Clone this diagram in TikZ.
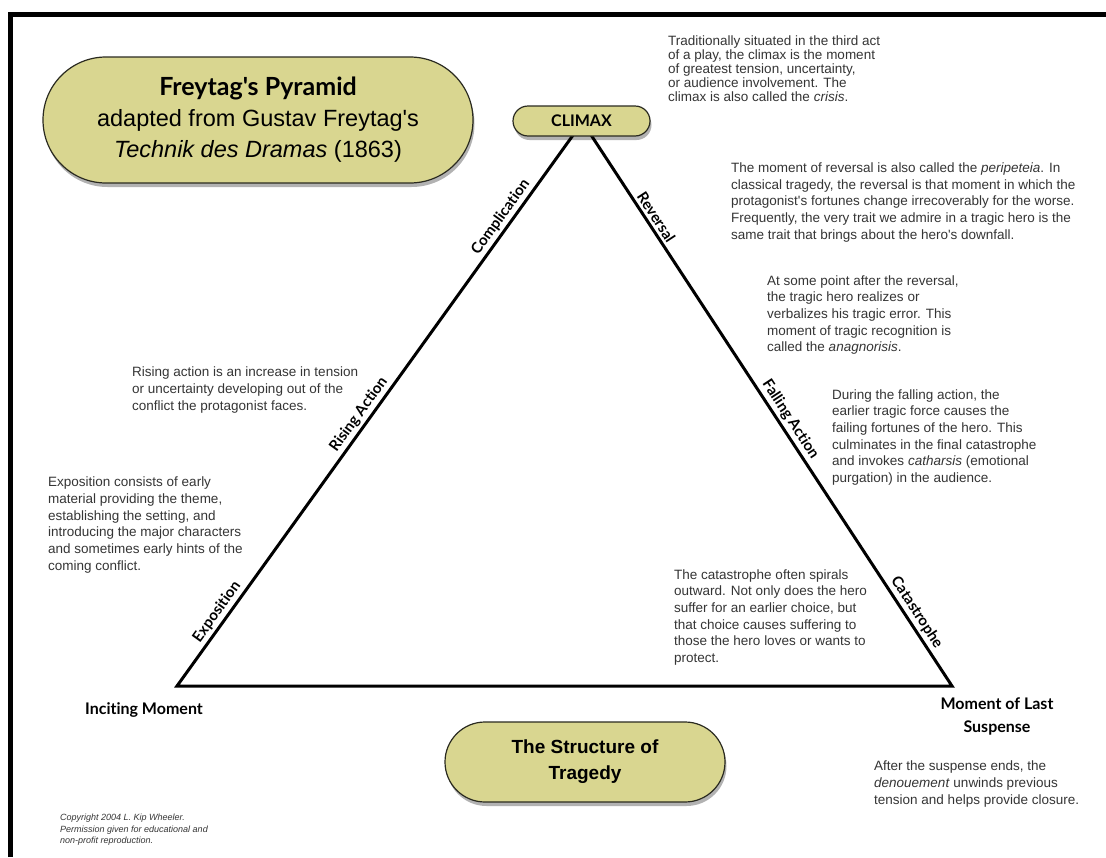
\documentclass[tikz,border=0pt]{standalone}
\usepackage{fontspec}
\setmainfont{Liberation Sans}[Ligatures=TeXOff]
\newfontfamily\lblfont{Lato}[Ligatures={TeXOff,CommonOff}]
\usetikzlibrary{shadows,shapes.misc}
\definecolor{pillfill}{HTML}{D9D690}
\definecolor{bodytxt}{HTML}{353535}
\definecolor{pillline}{HTML}{2A2A20}
\begin{document}
\begin{tikzpicture}[x=1pt,y=-1pt,
  pill/.style={rounded rectangle, draw=pillline, line width=1.2pt, fill=pillfill, inner sep=0pt,
    drop shadow={shadow xshift=1.5pt, shadow yshift=-4pt, opacity=0.3, fill=black}},
  body/.style={anchor=north west, inner sep=0pt, align=left, text=bodytxt,
    font=\fontsize{13.5}{16.7}\selectfont},
  tri/.style={line width=3pt, line join=miter, draw=black},
  edgelbl/.style={sloped, above, inner sep=2.5pt, font=\lblfont\bfseries\fontsize{15}{18}\selectfont},
  vertexlbl/.style={inner sep=0pt, align=center, font=\lblfont\bfseries\fontsize{16}{23}\selectfont},
  frame/.style={line width=5pt, draw=black}]
\useasboundingbox (0,0) rectangle (1106,857);
\fill[white] (0,0) rectangle (1106,857);
% frame
\coordinate (fbl) at (10.5,857);
\coordinate (ftl) at (10.5,14.5);
\coordinate (ftr) at (1106,14.5);
\draw[frame] (fbl) -- (ftl) -- (ftr);

% title pill
\node[pill, minimum width=430, minimum height=126, align=center,
      font=\fontsize{23.5}{31}\selectfont] (title) at (258,120)
  {{\lblfont\bfseries\fontsize{25}{31}\selectfont Freytag's Pyramid}\\
   adapted from Gustav Freytag's\\
   \textit{Technik des Dramas} (1863)};

% triangle
\coordinate (L) at (177,686);
\coordinate (R) at (952,686);
\coordinate (apex) at (582.5,122);
\draw[tri] (L) -- node[edgelbl, pos=0.12] {Exposition}
                  node[edgelbl, pos=0.47] {Rising Action}
                  node[edgelbl, pos=0.82] {Complication} (apex)
           -- node[edgelbl, pos=0.178] {Reversal}
                  node[edgelbl, pos=0.538] {Falling Action}
                  node[edgelbl, pos=0.88] {Catastrophe} (R)
           -- cycle;

% climax pill
\node[pill, minimum width=137, minimum height=30, font=\lblfont\bfseries\fontsize{16}{18}\selectfont]
  (climax) at (581.5,121) {CLIMAX};

% vertex labels
\node[vertexlbl] (incite) at (144,710) {Inciting Moment};
\node[vertexlbl] (suspense) at (997,716) {Moment of Last\\Suspense};

% structure pill
\node[pill, minimum width=280, minimum height=80, align=center,
      font=\bfseries\fontsize{19}{26}\selectfont] (structure) at (585,762)
  {The Structure of\\Tragedy};

% descriptions
\node[body, font=\fontsize{13.5}{14}\selectfont] (climaxtxt) at (668,35.8)
  {Traditionally situated in the third act\\
   of a play, the climax is the moment\\
   of greatest tension, uncertainty,\\
   or audience involvement. The\\
   climax is also called the \textit{crisis}.};
\node[body] (reversaltxt) at (731,162.4)
  {The moment of reversal is also called the \textit{peripeteia}. In\\
   classical tragedy, the reversal is that moment in which the\\
   protagonist's fortunes change irrecoverably for the worse.\\
   Frequently, the very trait we admire in a tragic hero is the\\
   same trait that brings about the hero's downfall.};
\node[body] (anagtxt) at (767,275.2)
  {At some point after the reversal,\\
   the tragic hero realizes or\\
   verbalizes his tragic error. This\\
   moment of tragic recognition is\\
   called the \textit{anagnorisis}.};
\node[body] (fallingtxt) at (832,389.2)
  {During the falling action, the\\
   earlier tragic force causes the\\
   failing fortunes of the hero. This\\
   culminates in the final catastrophe\\
   and invokes \textit{catharsis} (emotional\\
   purgation) in the audience.};
\node[body] (catatxt) at (674,569.2)
  {The catastrophe often spirals\\
   outward. Not only does the hero\\
   suffer for an earlier choice, but\\
   that choice causes suffering to\\
   those the hero loves or wants to\\
   protect.};
\node[body] (risingtxt) at (132,366.8)
  {Rising action is an increase in tension\\
   or uncertainty developing out of the\\
   conflict the protagonist faces.};
\node[body] (exptxt) at (48,476.8)
  {Exposition consists of early\\
   material providing the theme,\\
   establishing the setting, and\\
   introducing the major characters\\
   and sometimes early hints of the\\
   coming conflict.};
\node[body] (denouetxt) at (874,760.8)
  {After the suspense ends, the\\
   \textit{denouement} unwinds previous\\
   tension and helps provide closure.};
\node[body, font=\itshape\fontsize{9}{11.5}\selectfont] (copyright) at (60,813.9)
  {Copyright 2004 L. Kip Wheeler.\\
   Permission given for educational and\\
   non-profit reproduction.};
\end{tikzpicture}
\end{document}
